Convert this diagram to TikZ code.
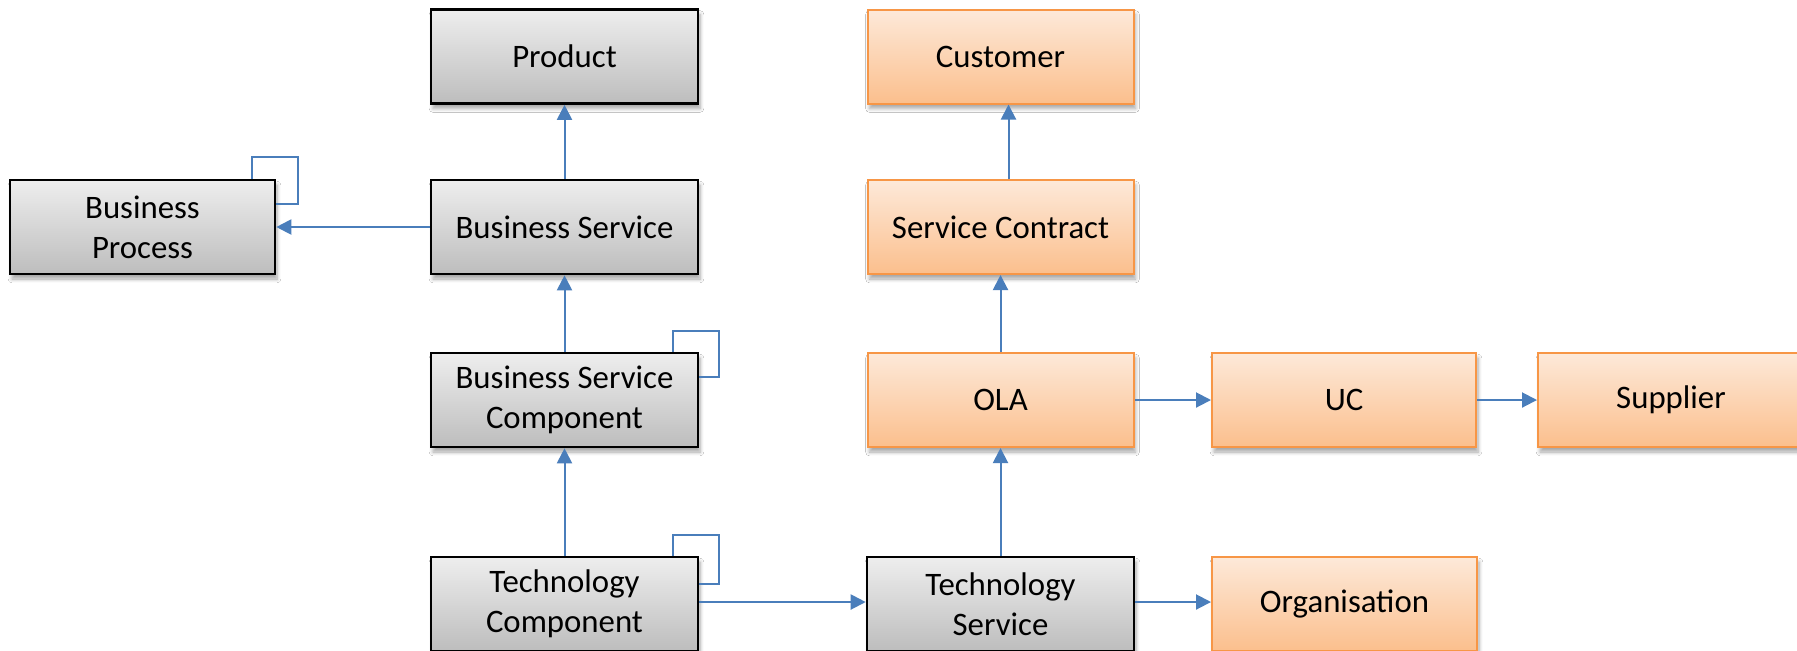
\documentclass[tikz,border=0pt]{standalone}
\usepackage{fontspec}
\setmainfont{Carlito}
\usetikzlibrary{arrows.meta,shadows.blur}
\definecolor{linkblue}{HTML}{4A7EBB}
\definecolor{orangeline}{HTML}{F79646}
\definecolor{greytop}{HTML}{EEEEEE}
\definecolor{greybot}{HTML}{BDBDBD}
\definecolor{orangetop}{HTML}{FDE9D9}
\definecolor{orangebot}{HTML}{FBBF8D}
\tikzset{
  box/.style={rectangle, minimum height=47pt, inner sep=0pt, align=center,
    font=\fontsize{16.4}{20}\selectfont,
    blur shadow={shadow xshift=1pt, shadow yshift=-2.5pt, shadow blur steps=6, shadow opacity=35}},
  greybox/.style={box, draw=black, line width=1.3pt, top color=greytop, bottom color=greybot, minimum width=133.5pt},
  orangebox/.style={box, draw=orangeline, line width=1pt, top color=orangetop, bottom color=orangebot, minimum width=133pt},
  link/.style={draw=linkblue, line width=1pt, -{Triangle[length=7.5pt,width=7.5pt]}},
  selfloop/.style={draw=linkblue, line width=1pt},
}
\begin{document}
\begin{tikzpicture}[x=0.5pt, y=-0.5pt]
\useasboundingbox (0,0) rectangle (1797,650);
\fill[white] (0,0) rectangle (1797,650);
\clip (0,0) rectangle (1797,650);

\node[greybox] (product) at (564.5,56.5) {Product};
\node[greybox, minimum width=132.5pt] (bp) at (142.5,227) {Business\\Process};
\node[greybox] (bs) at (564.5,227) {Business Service};
\node[greybox] (bsc) at (564.5,400) {Business Service\\Component};
\node[greybox] (tc) at (564.5,604) {Technology\\Component};

\node[orangebox] (cust) at (1000.5,56.5) {Customer};
\node[orangebox] (sc) at (1000.5,227) {Service Contract};
\node[orangebox] (ola) at (1000.5,400) {OLA};
\node[orangebox, minimum width=132pt] (uc) at (1344,400) {UC};
\node[orangebox] (sup) at (1671,400) {Supplier};
\node[greybox] (ts) at (1000.5,604) {Technology\\Service};
\node[orangebox, minimum width=132.5pt] (org) at (1344.5,604) {Organisation};

\draw[link] (bs.north) -- (product.south);
\draw[link] (bs.west) -- (bp.east);
\draw[link] (bsc.north) -- (bs.south);
\draw[link] (tc.north) -- (bsc.south);
\draw[link] ([yshift=1pt]tc.east) -- ([yshift=1pt]ts.west);
\draw[link] (ts.north) -- (ola.south);
\draw[link] (ola.north) -- (sc.south);
\draw[link] ([xshift=4pt]sc.north) -- ([xshift=4pt]cust.south);
\draw[link] (ola.east) -- (uc.west);
\draw[link] (uc.east) -- (sup.west);
\draw[link] ([yshift=1pt]ts.east) -- ([yshift=1pt]org.west);

\draw[selfloop] ([xshift=-12pt]bp.north east) -- ++(0,-22) -- ++(46,0) -- ++(0,47) -- ([yshift=-12.5pt]bp.north east);
\draw[selfloop] ([xshift=-13pt]bsc.north east) -- ++(0,-21) -- ++(46,0) -- ++(0,46) -- ([yshift=-12.5pt]bsc.north east);
\draw[selfloop] ([xshift=-13pt]tc.north east) -- ++(0,-21) -- ++(46,0) -- ++(0,49) -- ([yshift=-14pt]tc.north east);
\end{tikzpicture}
\end{document}
